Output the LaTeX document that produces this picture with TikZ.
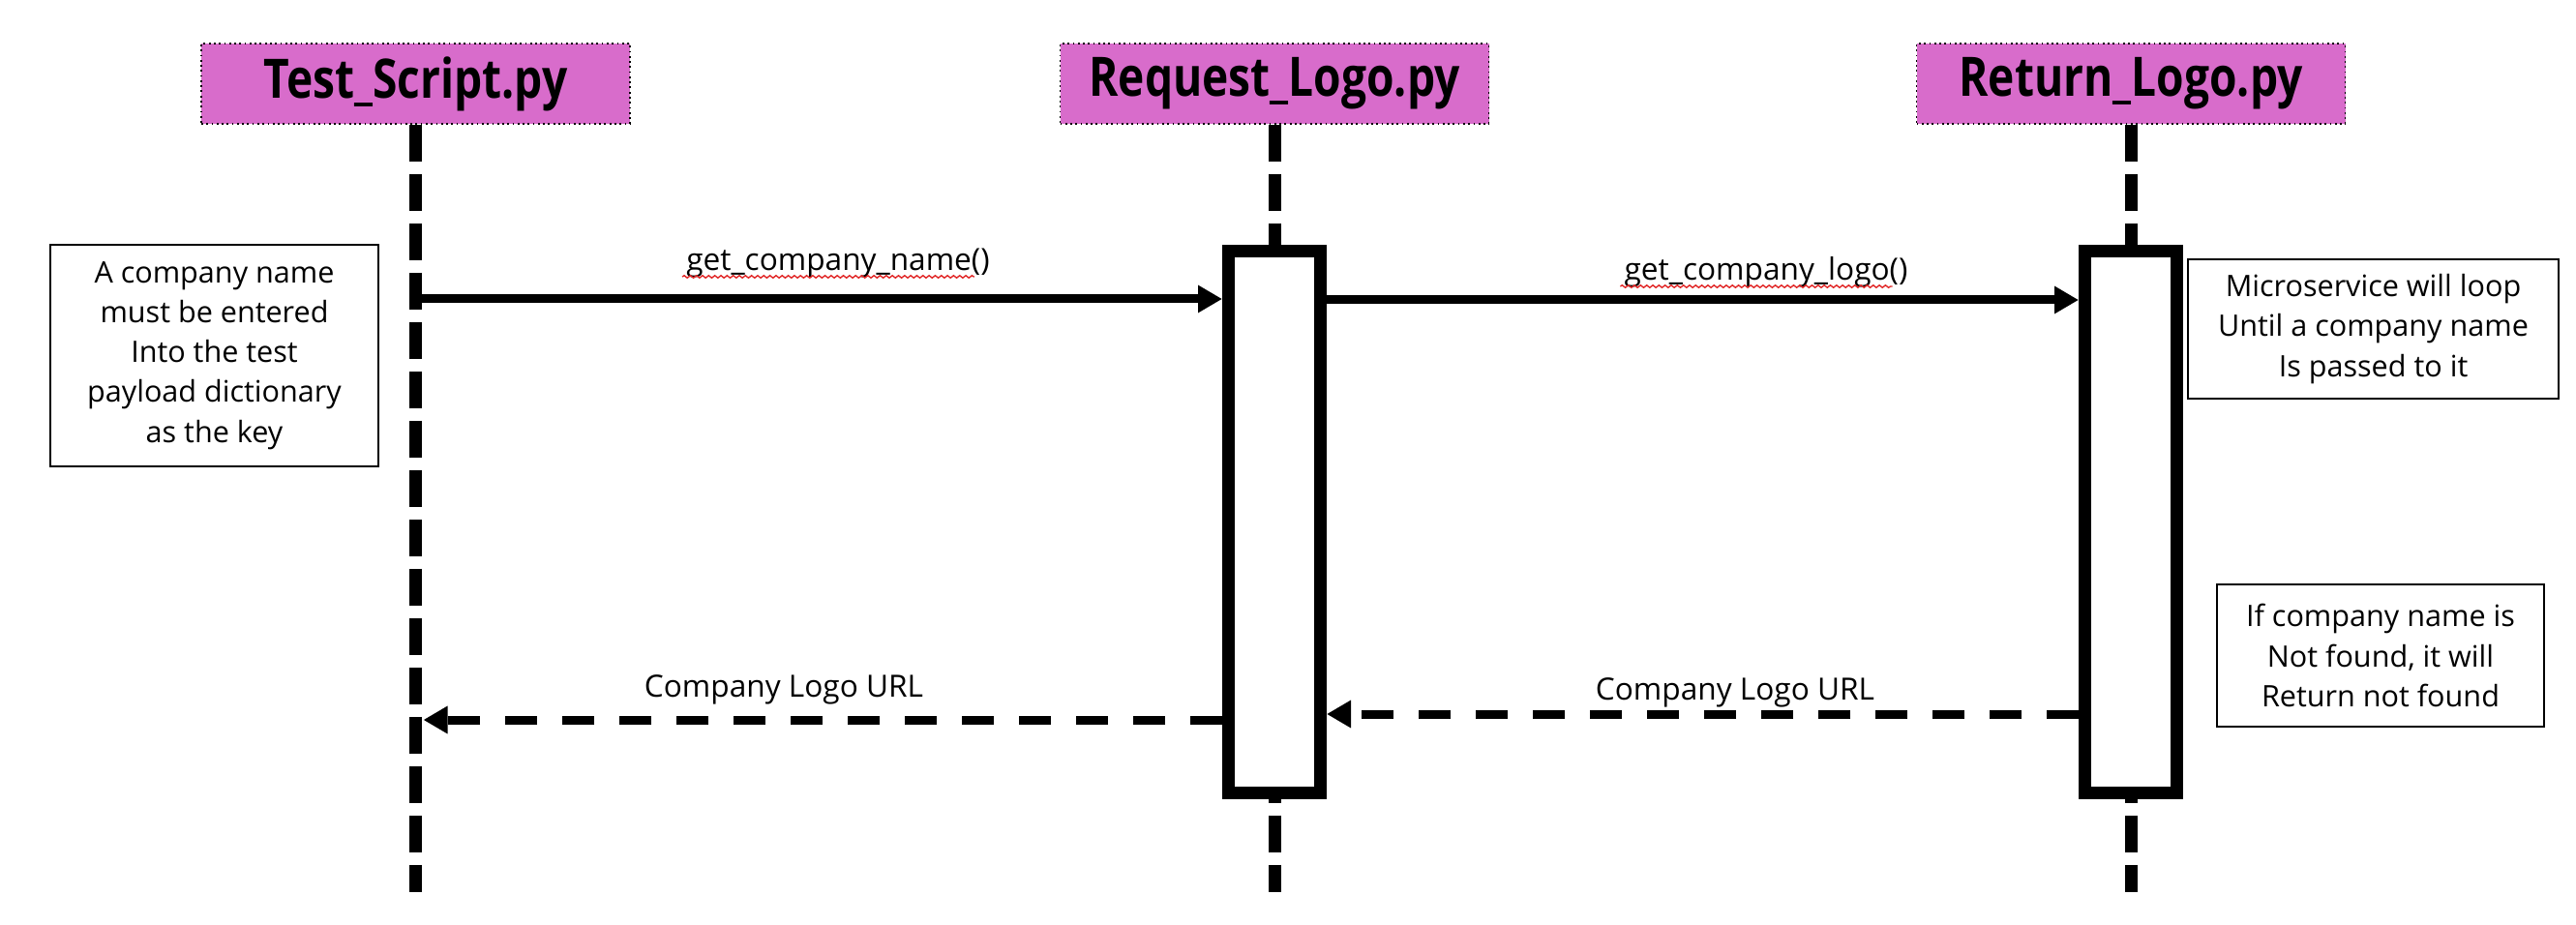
\documentclass[tikz,border=0pt]{standalone}
\usepackage{fontspec}
\setmainfont{Open Sans}
\newfontfamily\hdfont[FakeStretch=0.82]{Open Sans}
\usepackage{tikz}
\usetikzlibrary{arrows.meta,decorations.pathmorphing}
\definecolor{figline}{RGB}{0,0,0}
\definecolor{fighead}{RGB}{216,108,203}
\definecolor{figspell}{RGB}{225,40,40}
\tikzset{
  hd/.style   ={draw=figline, densely dotted, line width=0.5pt, fill=fighead, minimum width=4.43cm, minimum height=0.83cm, inner sep=0pt, font=\hdfont\bfseries\fontsize{16}{18}\selectfont},
  life/.style ={draw=figline, line width=0.13cm, line cap=butt, dash pattern=on 0.38cm off 0.13cm},
  act/.style  ={draw=figline, fill=white, line width=0.13cm, minimum width=0.95cm, minimum height=5.60cm, inner sep=0pt},
  note/.style ={draw=figline, line width=0.6pt, align=center, inner sep=0pt, font=\fontsize{8.7}{11.7}\selectfont},
  lbl/.style  ={font=\fontsize{9}{11}\selectfont, inner sep=1pt, anchor=base},
  msg/.style  ={draw=figline, line width=0.09cm, -{Triangle[length=0.25cm,width=0.27cm]}},
  ret/.style  ={msg, dash pattern=on 0.33cm off 0.26cm},
  spell/.style={draw=figspell, line width=0.4pt, decorate, decoration={snake, amplitude=0.35pt, segment length=1.8pt}},
}
\begin{document}
\begin{tikzpicture}
  \useasboundingbox (0,0) rectangle (26.62,-9.56);
  \node[hd] (tscript) at (4.295,-0.865) {Test\_Script.py};
  \node[hd] (reqlogo) at (13.17,-0.865) {Request\_Logo.py};
  \node[hd] (retlogo) at (22.02,-0.865) {Return\_Logo.py};
  \coordinate (tsend) at (4.295,-9.22);
  \coordinate (rqend) at (13.17,-9.22);
  \coordinate (rtend) at (22.02,-9.22);
  \draw[life] (tscript.south) -- (tsend);
  \draw[life] (reqlogo.south) -- (rqend);
  \draw[life] (retlogo.south) -- (rtend);
  \node[act] (reqact) at (13.17,-5.395) {};
  \node[act] (retact) at (22.02,-5.395) {};
  \node[note, minimum width=3.39cm, minimum height=2.29cm] (notein) at (2.215,-3.675)
    {A company name\\must be entered\\Into the test\\payload dictionary\\as the key};
  \node[note, minimum width=3.83cm, minimum height=1.44cm] (noteloop) at (24.525,-3.40)
    {Microservice will loop\\Until a company name\\Is passed to it};
  \node[note, minimum width=3.38cm, minimum height=1.47cm] (notefail) at (24.60,-6.775)
    {If company name is\\Not found, it will\\Return not found};
  \coordinate (tsa) at (4.295,-3.09);
  \coordinate (tsc) at (4.375,-7.44);
  \coordinate (yb) at (0,-3.10);
  \coordinate (yd) at (0,-7.38);
  \draw[msg] (tsa) -- (tsa -| reqact.west);
  \draw[msg] (yb -| reqact.east) -- (yb -| retact.west);
  \draw[ret] (tsc -| reqact.west) -- (tsc);
  \draw[ret] (yd -| retact.west) -- (yd -| reqact.east);
  \node[lbl] (lblname) at (8.66,-2.80) {get\_company\_name()};
  \node[lbl] (lbllogo) at (18.25,-2.90) {get\_company\_logo()};
  \node[lbl] (lblurla) at (8.10,-7.20) {Company Logo URL};
  \node[lbl] (lblurlb) at (17.93,-7.23) {Company Logo URL};
  \draw[spell] ([yshift=-0.6mm]lblname.base west) -- ([xshift=-2mm,yshift=-0.6mm]lblname.base east);
  \draw[spell] ([yshift=-0.6mm]lbllogo.base west) -- ([xshift=-2mm,yshift=-0.6mm]lbllogo.base east);
\end{tikzpicture}
\end{document}
